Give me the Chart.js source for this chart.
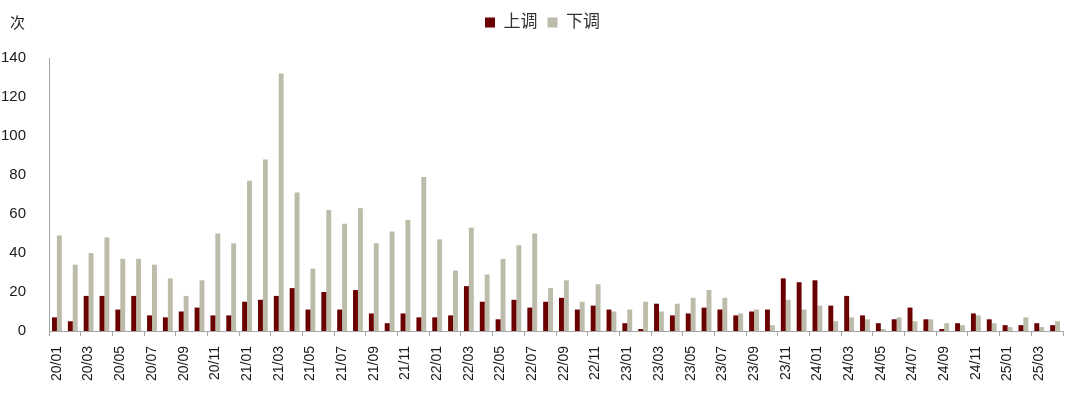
<!DOCTYPE html>
<html>
<head>
<meta charset="utf-8">
<script src="https://cdn.jsdelivr.net/npm/chart.js@4"></script>
<style>
  html, body { margin: 0; padding: 0; background: #fff; }
  #wrap { width: 1080px; height: 396px; }
</style>
</head>
<body>
<div id="wrap"><canvas id="chart"></canvas></div>
<script>
"use strict";

// months 20/01 .. 25/04
const months = [
  "20/01","20/02","20/03","20/04","20/05","20/06","20/07","20/08","20/09","20/10","20/11","20/12",
  "21/01","21/02","21/03","21/04","21/05","21/06","21/07","21/08","21/09","21/10","21/11","21/12",
  "22/01","22/02","22/03","22/04","22/05","22/06","22/07","22/08","22/09","22/10","22/11","22/12",
  "23/01","23/02","23/03","23/04","23/05","23/06","23/07","23/08","23/09","23/10","23/11","23/12",
  "24/01","24/02","24/03","24/04","24/05","24/06","24/07","24/08","24/09","24/10","24/11","24/12",
  "25/01","25/02","25/03","25/04"
];

// 上调 (raised)
const upCounts = [
  7, 5, 18, 18, 11, 18, 8, 7, 10, 12, 8, 8,
  15, 16, 18, 22, 11, 20, 11, 21, 9, 4, 9, 7,
  7, 8, 23, 15, 6, 16, 12, 15, 17, 11, 13, 11,
  4, 1, 14, 8, 9, 12, 11, 8, 10, 11, 27, 25,
  26, 13, 18, 8, 4, 6, 12, 6, 1, 4, 9, 6,
  3, 3, 4, 3
];

// 下调 (lowered)
const downCounts = [
  49, 34, 40, 48, 37, 37, 34, 27, 18, 26, 50, 45,
  77, 88, 132, 71, 32, 62, 55, 63, 45, 51, 57, 79,
  47, 31, 53, 29, 37, 44, 50, 22, 26, 15, 24, 10,
  11, 15, 10, 14, 17, 21, 17, 9, 11, 3, 16, 11,
  13, 5, 7, 6, 1, 7, 5, 6, 4, 3, 8, 4,
  2, 7, 2, 5
];

const yTicks = [0, 20, 40, 60, 80, 100, 120, 140];

const RED = "#6b0000";
const GRAY = "#bdbcaa";
const AXIS = "#a6a6a6";
const TEXT = "#1a1a1a";
const FONT = '"Liberation Sans", Arial, "Noto Sans CJK SC", sans-serif';

// extra room under the legend, legend nudged right, and the unit label "次"
const extrasPlugin = {
  id: "extras",
  beforeInit(chart) {
    const legend = chart.legend;
    const origFit = legend.fit;
    legend.fit = function () {
      origFit.bind(legend)();
      this.height += 17;
    };
    const origDraw = legend.draw;
    legend.draw = function () {
      const ctx = chart.ctx;
      ctx.save();
      ctx.translate(11, 0);
      origDraw.bind(legend)();
      ctx.restore();
    };
  },
  afterDraw(chart) {
    const ctx = chart.ctx;
    ctx.save();
    ctx.font = '15px "Noto Sans CJK SC", sans-serif';
    ctx.fillStyle = TEXT;
    ctx.textAlign = "left";
    ctx.textBaseline = "middle";
    ctx.fillText("次", 10, 22);
    ctx.restore();
  }
};

function tickMarkColor(c) {
  // tick marks only at every second month boundary
  if (c.index === undefined || c.index % 2 === 0) return AXIS;
  return "rgba(0,0,0,0)";
}

const chart = new Chart("chart", {
  type: "bar",
  data: {
    labels: months,
    datasets: [
      { label: "上调", data: upCounts, backgroundColor: RED },
      { label: "下调", data: downCounts, backgroundColor: GRAY }
    ]
  },
  options: {
    responsive: true,
    maintainAspectRatio: false,
    animation: false,
    layout: { padding: { left: 0, right: 17, top: 4, bottom: 0 } },
    datasets: {
      bar: { barPercentage: 1.0, categoryPercentage: 0.62 }
    },
    plugins: {
      tooltip: { enabled: false },
      legend: {
        position: "top",
        labels: {
          boxWidth: 10,
          boxHeight: 10,
          padding: 10,
          color: "#333",
          font: { family: FONT, size: 17 }
        }
      }
    },
    scales: {
      x: {
        grid: {
          display: true,
          offset: true,
          drawOnChartArea: false,
          drawTicks: true,
          tickLength: 5,
          color: tickMarkColor,
          tickColor: tickMarkColor
        },
        border: { display: true, color: AXIS, width: 1 },
        afterFit: function (axis) {
          axis.height = 65;
          axis.paddingLeft = 0;
          axis.paddingRight = 0;
        },
        ticks: {
          autoSkip: false,
          maxRotation: 90,
          minRotation: 90,
          padding: 10,
          color: TEXT,
          font: { family: FONT, size: 14 },
          callback: function (val, i) {
            return i % 2 === 0 ? this.getLabelForValue(val) : "";
          }
        }
      },
      y: {
        min: yTicks[0],
        max: yTicks[yTicks.length - 1],
        grid: { display: false },
        border: { display: true, color: AXIS, width: 1 },
        afterBuildTicks: function (axis) {
          axis.ticks = yTicks.map(v => ({ value: v }));
        },
        afterFit: function (axis) {
          axis.width = 49;
        },
        ticks: {
          padding: 15,
          color: TEXT,
          font: { family: FONT, size: 15 }
        }
      }
    }
  },
  plugins: [extrasPlugin]
});
</script>
</body>
</html>
